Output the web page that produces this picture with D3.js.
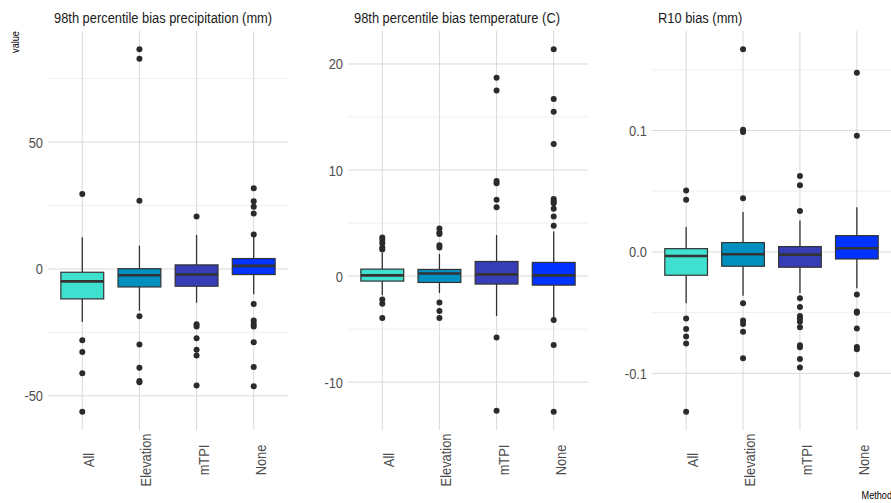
<!DOCTYPE html>
<html>
<head>
<meta charset="utf-8">
<script src="https://cdn.jsdelivr.net/npm/d3@7"></script>
<style>
  body { margin: 0; background: #fff; }
  text { font-family: "Liberation Sans", Arial, sans-serif; }
</style>
</head>
<body>
<div id="chart"></div>
<script>
// ---- data ----
const methods = ["All", "Elevation", "mTPI", "None"];
const fills = ["#40E0D0", "#0090C0", "#363DB7", "#0033FF"];

const titles = ["98th percentile bias precipitation (mm)", "98th percentile bias temperature (C)", "R10 bias (mm)"];

// [lower whisker, q1, median, q3, upper whisker] per method
const precipStats = [
    [-20.9, -11.8, -4.9, -1.3, 12.5],
    [-16.5, -7.1, -2.5, 0.1, 9.2],
    [-13.3, -6.8, -2.2, 1.6, 13.4],
    [-10.0, -2.2, 1.2, 4.1, 13.0]
];
const precipOut = [
    [29.5, -28.1, -32.7, -41.1, -56.3],
    [86.6, 82.8, 26.9, -18.6, -29.8, -38.9, -44.1, -44.6],
    [20.7, -21.8, -22.7, -27.3, -31.8, -34.1, -45.9],
    [31.8, 26.7, 24.5, 21.8, 13.6, -13.8, -20.3, -21.7, -22.7, -28.9, -38.6, -46.2]
];

const tempStats = [
    [-1.8, -0.47, 0.07, 0.66, 2.2],
    [-1.6, -0.6, 0.25, 0.63, 2.1],
    [-3.77, -0.75, 0.16, 1.38, 3.87],
    [-3.9, -0.85, 0.07, 1.29, 4.2]
];
const tempOut = [
    [3.65, 3.4, 3.1, 2.7, 2.5, -2.2, -2.6, -3.96],
    [4.5, 4.1, 3.96, 2.9, 2.7, -2.5, -3.3, -3.96],
    [18.7, 17.5, 8.96, 8.75, 7.2, 6.5, -5.8, -12.7],
    [21.4, 16.7, 15.5, 12.45, 7.26, 7.05, 6.86, 6.35, 5.63, 4.75, -4.15, -6.5, -12.8]
];

const r10Stats = [
    [-0.0422, -0.0192, -0.0033, 0.0027, 0.0206],
    [-0.036, -0.0118, -0.0019, 0.0077, 0.0329],
    [-0.034, -0.0126, -0.0022, 0.0044, 0.0258],
    [-0.0299, -0.0058, 0.003, 0.0134, 0.0368]
];
const r10Out = [
    [0.0505, 0.043, -0.0549, -0.0634, -0.0697, -0.0755, -0.1317],
    [0.167, 0.1007, 0.0988, 0.0442, -0.0422, -0.0565, -0.0593, -0.0658, -0.0875],
    [0.0626, 0.0549, 0.0337, -0.0381, -0.0453, -0.0527, -0.0549, -0.0574, -0.062, -0.0768, -0.0784, -0.0881, -0.0952],
    [0.1476, 0.0957, -0.0351, -0.0491, -0.05, -0.0631, -0.0782, -0.0801, -0.1007]
];

const precipTicks = [-50, 0, 50], precipMinor = [-25, 25, 75];
const tempTicks = [-10, 0, 10, 20], tempMinor = [-5, 5, 15];
const r10Ticks = [-0.1, 0.0, 0.1], r10Minor = [-0.05, 0.05, 0.15];

// ---- layout ----
var width = 891, height = 503;
var panelTop = 31, panelBottom = 430;
var squeeze = 0.83; // text in the picture is narrower than the font

var panels = [
    { left: 48, right: 288, title: titles[0], stats: precipStats, out: precipOut, ticks: precipTicks, minor: precipMinor, fmt: d => String(d) },
    { left: 348, right: 588, title: titles[1], stats: tempStats, out: tempOut, ticks: tempTicks, minor: tempMinor, fmt: d => String(d) },
    { left: 652, right: 891, title: titles[2], stats: r10Stats, out: r10Out, ticks: r10Ticks, minor: r10Minor, fmt: d => d.toFixed(1) }
];

var svg = d3.select("#chart")
    .append("svg")
    .attr("width", width)
    .attr("height", height);

panels.forEach(function(p) {
    // y domain = data range expanded 5% each side (like ggplot)
    var all = [];
    p.stats.forEach(s => all.push(s[0], s[4]));
    p.out.forEach(o => all.push(...o));
    var lo = d3.min(all), hi = d3.max(all), pad = (hi - lo) * 0.05;

    var y = d3.scaleLinear()
        .domain([lo - pad, hi + pad])
        .range([panelBottom, panelTop]);

    var x = d3.scalePoint()
        .domain(methods)
        .range([p.left, p.right])
        .padding(0.6);

    var boxW = x.step() * 0.75;
    var g = svg.append("g");

    // grid
    g.selectAll(".minor")
        .data(p.minor)
        .enter().append("line")
        .attr("x1", p.left).attr("x2", p.right)
        .attr("y1", d => y(d)).attr("y2", d => y(d))
        .attr("stroke", "#ececec")
        .attr("stroke-width", 0.8);

    g.selectAll(".major")
        .data(p.ticks)
        .enter().append("line")
        .attr("x1", p.left).attr("x2", p.right)
        .attr("y1", d => y(d)).attr("y2", d => y(d))
        .attr("stroke", "#dadada")
        .attr("stroke-width", 1);

    g.selectAll(".vgrid")
        .data(methods)
        .enter().append("line")
        .attr("x1", d => x(d)).attr("x2", d => x(d))
        .attr("y1", panelTop).attr("y2", panelBottom)
        .attr("stroke", "#dadada")
        .attr("stroke-width", 1);

    // y axis labels
    var yAxis = d3.axisLeft(y)
        .tickValues(p.ticks)
        .tickFormat(p.fmt)
        .tickSize(0);

    var ya = g.append("g")
        .attr("transform", `translate(${p.left}, 0)`)
        .call(yAxis);
    ya.select(".domain").remove();
    ya.selectAll("text")
        .attr("x", -5 / squeeze)
        .attr("font-size", 15.5)
        .attr("fill", "#4d4d4d")
        .attr("transform", `scale(${squeeze},1)`);

    // x axis labels (rotated)
    var xAxis = d3.axisBottom(x).tickSize(0);
    var xa = g.append("g")
        .attr("transform", `translate(0, ${panelBottom})`)
        .call(xAxis);
    xa.select(".domain").remove();
    xa.selectAll("text")
        .attr("font-size", 15.5)
        .attr("fill", "#4d4d4d")
        .attr("text-anchor", "middle")
        .attr("dy", 0)
        .attr("y", 0)
        .attr("transform", `translate(11.5, 30) rotate(-90) scale(${squeeze},1)`);

    // whiskers
    g.selectAll(".whisker")
        .data(p.stats)
        .enter().append("line")
        .attr("x1", (d, i) => x(methods[i])).attr("x2", (d, i) => x(methods[i]))
        .attr("y1", d => y(d[0])).attr("y2", d => y(d[4]))
        .attr("stroke", "#333333")
        .attr("stroke-width", 1.3);

    // boxes
    g.selectAll(".box")
        .data(p.stats)
        .enter().append("rect")
        .attr("x", (d, i) => x(methods[i]) - boxW / 2)
        .attr("y", d => y(d[3]))
        .attr("width", boxW)
        .attr("height", d => y(d[1]) - y(d[3]))
        .attr("fill", (d, i) => fills[i])
        .attr("stroke", "#333333")
        .attr("stroke-width", 1.2);

    // medians
    g.selectAll(".median")
        .data(p.stats)
        .enter().append("line")
        .attr("x1", (d, i) => x(methods[i]) - boxW / 2)
        .attr("x2", (d, i) => x(methods[i]) + boxW / 2)
        .attr("y1", d => y(d[2])).attr("y2", d => y(d[2]))
        .attr("stroke", "#333333")
        .attr("stroke-width", 2.6);

    // outliers
    p.out.forEach(function(o, i) {
        g.selectAll(".pt" + i)
            .data(o)
            .enter().append("circle")
            .attr("cx", x(methods[i]))
            .attr("cy", d => y(d))
            .attr("r", 3)
            .attr("fill", "#2b2b2b");
    });

    // title
    g.append("text")
        .attr("transform", `translate(${p.left + 6}, 23) scale(0.92,1)`)
        .attr("font-size", 14)
        .attr("fill", "#1a1a1a")
        .text(p.title);
});

// axis titles
svg.append("text")
    .attr("transform", `translate(19, 42) rotate(-90) scale(${squeeze},1)`)
    .attr("text-anchor", "middle")
    .attr("font-size", 11)
    .attr("fill", "#000")
    .text("value");

svg.append("text")
    .attr("transform", `translate(892, 499) scale(${squeeze},1)`)
    .attr("text-anchor", "end")
    .attr("font-size", 11)
    .attr("fill", "#000")
    .text("Method");
</script>
</body>
</html>
